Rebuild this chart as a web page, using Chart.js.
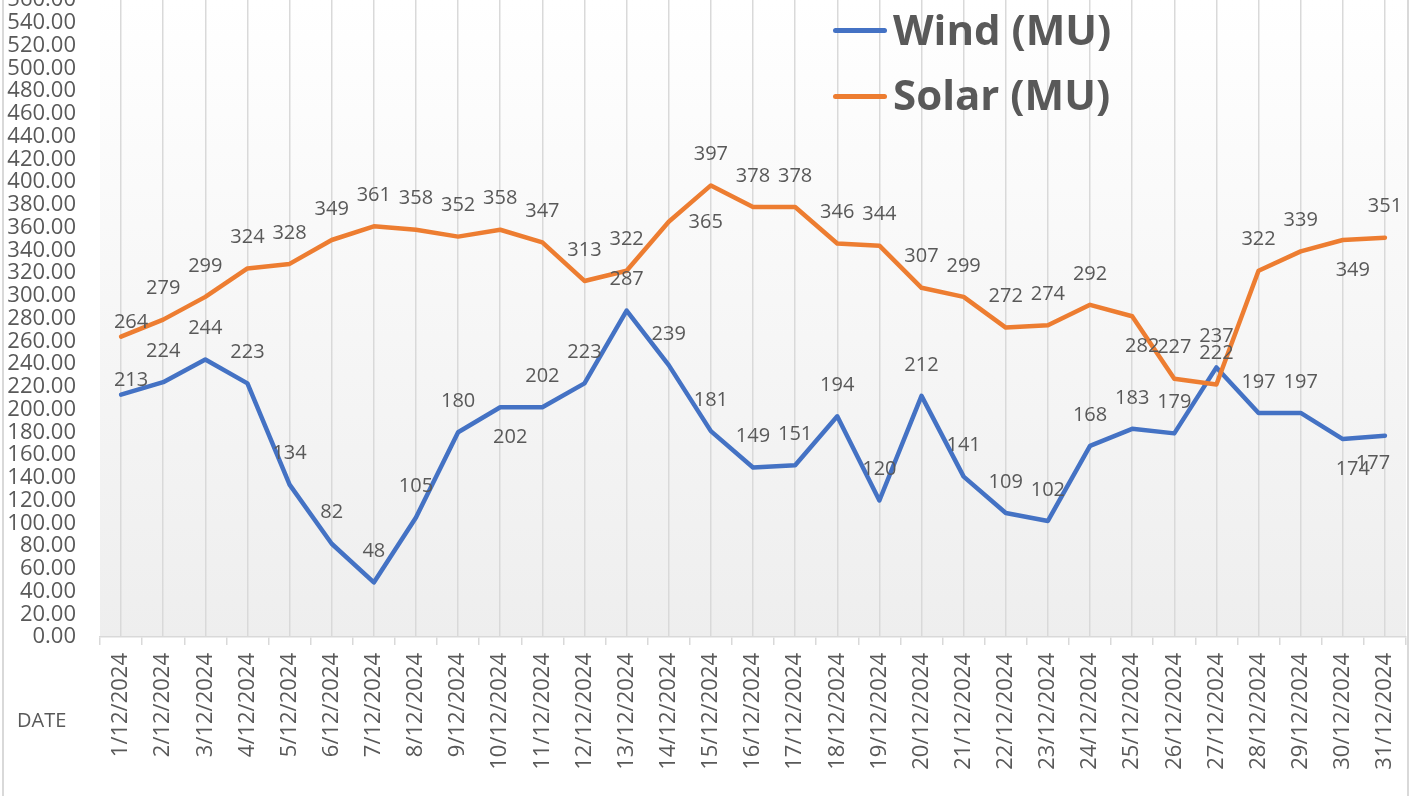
<!DOCTYPE html>
<html>
<head>
<meta charset="utf-8">
<title>Wind / Solar December 2024</title>
<script src="https://cdn.jsdelivr.net/npm/chart.js@4.4.1/dist/chart.umd.min.js"></script>
<style>
  html, body { margin: 0; padding: 0; background: #fff; overflow: hidden; }
  body { width: 1416px; height: 796px; position: relative; font-family: "Open Sans", sans-serif; color: #595959; }
  #frame { position: absolute; left: 2px; top: -10px; width: 1403px; height: 820px;
           border-left: 2px solid #d9d9d9; border-right: 2px solid #d9d9d9; }
  #wrap { position: absolute; left: 0; top: 0; width: 1416px; height: 796px; }
  .lg-bar { position: absolute; left: 833px; width: 54px; height: 5px; border-radius: 3px; }
  .lg-txt { position: absolute; left: 893px; font: bold 42px/42px "Open Sans", sans-serif; color: #595959; white-space: nowrap; }
  #axisName { position: absolute; left: 17px; top: 706px; font: 20px/28px "Open Sans", sans-serif; color: #595959; }
</style>
</head>
<body>
<div id="frame"></div>
<div id="wrap"><canvas id="chart"></canvas></div>
<div id="legend"></div>
<div id="axisName">DATE</div>
<script>
// daily generation, December 2024 (MU)
const dates = [
  '1/12/2024','2/12/2024','3/12/2024','4/12/2024','5/12/2024','6/12/2024','7/12/2024','8/12/2024',
  '9/12/2024','10/12/2024','11/12/2024','12/12/2024','13/12/2024','14/12/2024','15/12/2024','16/12/2024',
  '17/12/2024','18/12/2024','19/12/2024','20/12/2024','21/12/2024','22/12/2024','23/12/2024','24/12/2024',
  '25/12/2024','26/12/2024','27/12/2024','28/12/2024','29/12/2024','30/12/2024','31/12/2024'
];
const wind = [213, 224, 244, 223, 134, 82, 48, 105, 180, 202, 202, 223, 287, 239, 181, 149,
              151, 194, 120, 212, 141, 109, 102, 168, 183, 179, 237, 197, 197, 174, 177];
const solar = [264, 279, 299, 324, 328, 349, 361, 358, 352, 358, 347, 313, 322, 365, 397, 378,
               378, 346, 344, 307, 299, 272, 274, 292, 282, 227, 222, 322, 339, 349, 351];
const yMin = 0, yMax = 560, yStep = 20;

// where each value label sits relative to its point (T top, B bottom, R right ...)
const windLabelPos = ['TR','T','T','T','T','T','T','T','T','BR','T','T','T','T','T','T',
                      'T','T','T','T','T','T','T','T','T','T','T','T','T','BR','BL'];
const solarLabelPos = ['TR','T','T','T','T','T','T','T','T','T','T','T','T','R','T','T',
                       'T','T','T','T','T','T','T','T','BR','T','T','T','T','BR','T'];
const labelOffsets = { T: [0, -31], B: [0, 30], R: [37, 0], TR: [10, -14], BR: [10, 30], BL: [-12, 28] };

const TEXT = '#595959';
const GRID = '#d9d9d9';

const plotBg = {
  id: 'plotBg',
  beforeDraw(chart) {
    const {ctx, chartArea: a} = chart;
    const g = ctx.createLinearGradient(0, a.top, 0, a.bottom);
    g.addColorStop(0, '#ffffff');
    g.addColorStop(1, '#eeeeee');
    ctx.save();
    ctx.fillStyle = g;
    ctx.fillRect(a.left, a.top, a.right - a.left, a.bottom - a.top);
    ctx.restore();
  }
};

const valueLabels = {
  id: 'valueLabels',
  afterDatasetsDraw(chart) {
    const ctx = chart.ctx;
    ctx.save();
    ctx.font = '20px "Open Sans"';
    ctx.fillStyle = TEXT;
    ctx.textAlign = 'center';
    ctx.textBaseline = 'middle';
    chart.data.datasets.forEach((ds, i) => {
      const meta = chart.getDatasetMeta(i);
      meta.data.forEach((pt, j) => {
        const off = labelOffsets[ds.labelPos[j]] || labelOffsets.T;
        ctx.fillText(String(ds.data[j]), pt.x + off[0], pt.y + off[1]);
      });
    });
    ctx.restore();
  }
};

const chart = new Chart(document.getElementById('chart'), {
  type: 'line',
  data: {
    labels: dates,
    datasets: [
      {label: 'Wind (MU)', data: wind, labelPos: windLabelPos, borderColor: '#4472C4', backgroundColor: '#4472C4', order: 1},
      {label: 'Solar (MU)', data: solar, labelPos: solarLabelPos, borderColor: '#ED7D31', backgroundColor: '#ED7D31', order: 0}
    ]
  },
  options: {
    responsive: true,
    maintainAspectRatio: false,
    animation: false,
    layout: { padding: { left: 7, right: 10, top: 0, bottom: 19 } },
    elements: {
      line: { borderWidth: 4.5, tension: 0, borderJoinStyle: 'round', borderCapStyle: 'round' },
      point: { radius: 0, hoverRadius: 0 }
    },
    plugins: {
      legend: { display: false },
      tooltip: { enabled: false }
    },
    scales: {
      x: {
        type: 'category',
        offset: true,
        grid: { display: true, offset: true, drawOnChartArea: false, drawTicks: true, tickLength: 8, color: GRID, lineWidth: 1.5 },
        border: { display: true, color: GRID, width: 1.5 },
        ticks: { autoSkip: false, minRotation: 90, maxRotation: 90, padding: 8, color: TEXT, font: { family: 'Open Sans', size: 22 } },
        afterFit(scale) { scale.height = 140; scale.paddingLeft = 0; scale.paddingRight = 0; }
      },
      xg: {
        type: 'category',
        position: 'top',
        offset: true,
        grid: { display: true, offset: false, drawTicks: false, color: GRID, lineWidth: 1.5 },
        border: { display: false },
        ticks: { display: false }
      },
      y: {
        min: yMin,
        max: yMax,
        grid: { display: false, drawTicks: false },
        border: { display: false },
        ticks: {
          stepSize: yStep,
          autoSkip: false,
          padding: 24,
          color: TEXT,
          font: { family: 'Open Sans', size: 22, lineHeight: 1 },
          callback: v => Number(v).toFixed(2)
        },
        afterFit(scale) { scale.width = 93; scale.paddingTop = 0; scale.paddingBottom = 0; }
      }
    }
  },
  plugins: [plotBg, valueLabels]
});

// legend, built from the datasets
const legend = document.getElementById('legend');
chart.data.datasets.forEach((ds, i) => {
  const bar = document.createElement('div');
  bar.className = 'lg-bar';
  bar.style.top = (28 + i * 66) + 'px';
  bar.style.background = ds.borderColor;
  const txt = document.createElement('div');
  txt.className = 'lg-txt';
  txt.style.top = (8 + i * 65) + 'px';
  txt.textContent = ds.label;
  legend.appendChild(bar);
  legend.appendChild(txt);
});
</script>
</body>
</html>
